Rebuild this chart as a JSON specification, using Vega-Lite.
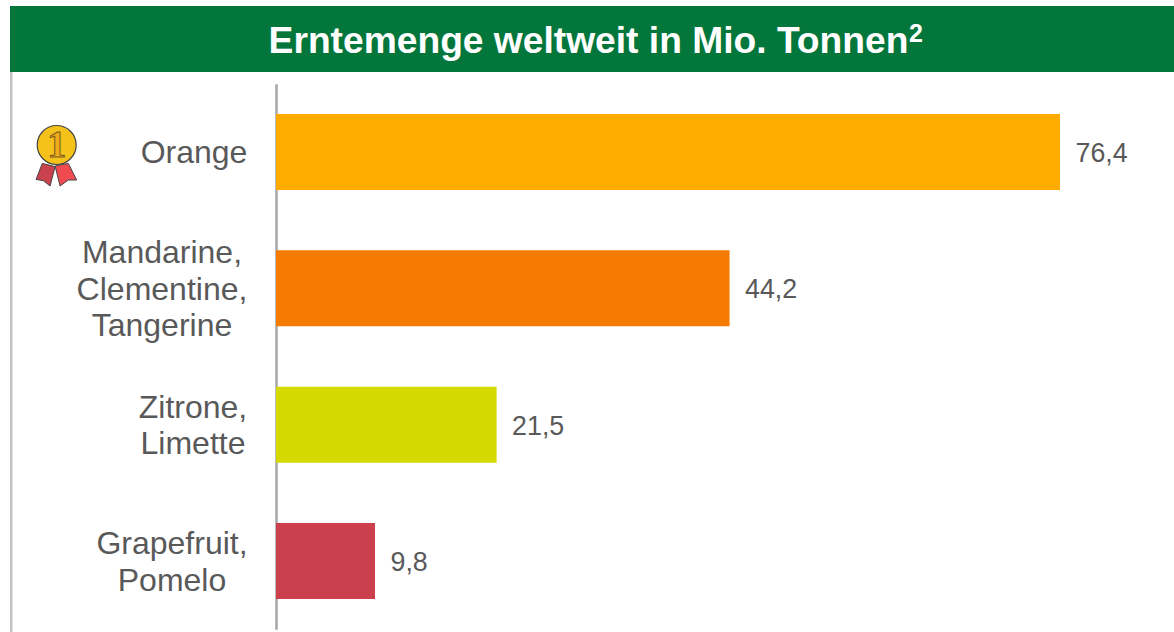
{
"$schema":"https://vega.github.io/schema/vega-lite/v6.json",
"padding":{"left":10,"top":6,"right":0,"bottom":0},
"background":"white",
"spacing":0,
"config":{"view":{"stroke":null},"concat":{"spacing":0},"text":{"font":"Liberation Sans"}},
"vconcat":[
{"width":1164,"height":66,"view":{"fill":"#03763b","stroke":null},
 "data":{"values":[{"title":"Erntemenge weltweit in Mio. Tonnen","hoch":"2"}]},
 "layer":[
  {"mark":{"type":"text","font":"Liberation Sans","fontWeight":"bold","fontSize":37.2,"color":"white","dx":-3.5,"dy":3},
   "encoding":{"text":{"field":"title"}}},
  {"mark":{"type":"text","font":"Liberation Sans","fontWeight":"bold","fontSize":25,"color":"white","dx":324,"dy":-5},
   "encoding":{"text":{"field":"hoch"}}}
 ]},
{"width":1164,"height":560,
 "data":{"values":[
  {"fruit":"Orange","value":76.4,"wert":"76,4","name":"Orange"},
  {"fruit":"Mandarine","value":44.2,"wert":"44,2","name":"Mandarine,\nClementine,\nTangerine"},
  {"fruit":"Zitrone","value":21.5,"wert":"21,5","name":"Zitrone,\nLimette"},
  {"fruit":"Grapefruit","value":9.65,"wert":"9,8","name":"Grapefruit,\nPomelo"}
 ]},
 "encoding":{
  "y":{"field":"fruit","type":"nominal","sort":null,
   "scale":{"domain":["Orange","Mandarine","Zitrone","Grapefruit"],"range":[11.83,557.2],"paddingInner":0.4425,"paddingOuter":0.22125},
   "axis":{"title":null,"labels":false,"ticks":false,"domain":true,"domainColor":"#a6a6a6","domainWidth":2.5,"offset":-266,"grid":false}}
 },
 "layer":[
  {"mark":{"type":"bar"},
   "encoding":{
    "x":{"field":"value","type":"quantitative","scale":{"domain":[-25.92,87.51],"nice":false,"zero":false},"axis":null},
    "color":{"field":"fruit","type":"nominal","legend":null,"scale":{"domain":["Orange","Mandarine","Zitrone","Grapefruit"],"range":["#ffab00","#f57c00","#d4d900","#cc3f4d"]}}
   }},
  {"mark":{"type":"text","align":"left","baseline":"middle","dx":15.5,"dy":2,"fontSize":26.8,"color":"#595959","font":"Liberation Sans"},
   "encoding":{"x":{"field":"value","type":"quantitative"},"text":{"field":"wert"}}},
  {"transform":[{"filter":"datum.fruit==='Orange'"}],
   "mark":{"type":"text","align":"center","baseline":"middle","dx":-82,"dy":1,"fontSize":32,"color":"#595959","font":"Liberation Sans"},
   "encoding":{"x":{"datum":0,"type":"quantitative"},"text":{"field":"name"}}},
  {"transform":[{"filter":"datum.fruit==='Zitrone'"}],
   "mark":{"type":"text","align":"center","baseline":"middle","dx":-83,"dy":-17,"fontSize":32,"lineHeight":36.5,"color":"#595959","font":"Liberation Sans","lineBreak":"\n"},
   "encoding":{"x":{"datum":0,"type":"quantitative"},"text":{"field":"name"}}},
  {"transform":[{"filter":"datum.fruit==='Mandarine'"}],
   "mark":{"type":"text","align":"center","baseline":"middle","dx":-114,"dy":-35,"fontSize":32,"lineHeight":36.5,"color":"#595959","font":"Liberation Sans","lineBreak":"\n"},
   "encoding":{"x":{"datum":0,"type":"quantitative"},"text":{"field":"name"}}},
  {"transform":[{"filter":"datum.fruit==='Grapefruit'"}],
   "mark":{"type":"text","align":"center","baseline":"middle","dx":-104,"dy":-17,"fontSize":32,"lineHeight":36.5,"color":"#595959","font":"Liberation Sans","lineBreak":"\n"},
   "encoding":{"x":{"datum":0,"type":"quantitative"},"text":{"field":"name"}}},
  {"mark":{"type":"rule","color":"#c4c4c4","strokeWidth":5,"clip":true},
   "data":{"values":[{"k":1}]},
   "encoding":{"x":{"datum":-25.92,"type":"quantitative"},"y":null}},
  {"data":{"values":[{"k":1}]},
   "mark":{"type":"point","filled":true,"size":1600,"color":"#c9424e","stroke":"#444444","strokeWidth":1,"opacity":1,"shape":"M-.72 -.58L-.08 -.42L-.33 .55L-.67 .28L-1.03 .22Z"},
   "encoding":{"x":{"datum":-21.37,"type":"quantitative"},"y":{"datum":"Orange"},"yOffset":{"value":61}}},
  {"data":{"values":[{"k":1}]},
   "mark":{"type":"point","filled":true,"size":1600,"color":"#ef4b50","stroke":"#444444","strokeWidth":1,"opacity":1,"shape":"M-.08 -.45L.58 -.58L1 .25L.58 .25L.17 .55Z"},
   "encoding":{"x":{"datum":-21.37,"type":"quantitative"},"y":{"datum":"Orange"},"yOffset":{"value":61}}},
  {"data":{"values":[{"k":1}]},
   "mark":{"type":"point","filled":true,"size":1520,"shape":"circle","color":"#f5c21b","stroke":"#444444","strokeWidth":1.2,"opacity":1},
   "encoding":{"x":{"datum":-21.37,"type":"quantitative"},"y":{"datum":"Orange"},"yOffset":{"value":31}}},
  {"data":{"values":[{"m":"1"}]},
   "mark":{"type":"text","align":"center","baseline":"middle","dy":-6,"fontSize":38,"fontWeight":"bold","color":"#f0ac18","stroke":"#7a5a20","strokeWidth":1,"font":"Liberation Serif"},
   "encoding":{"x":{"datum":-21.37,"type":"quantitative"},"y":{"datum":"Orange"},"text":{"field":"m"}}}
 ]}
]
}
